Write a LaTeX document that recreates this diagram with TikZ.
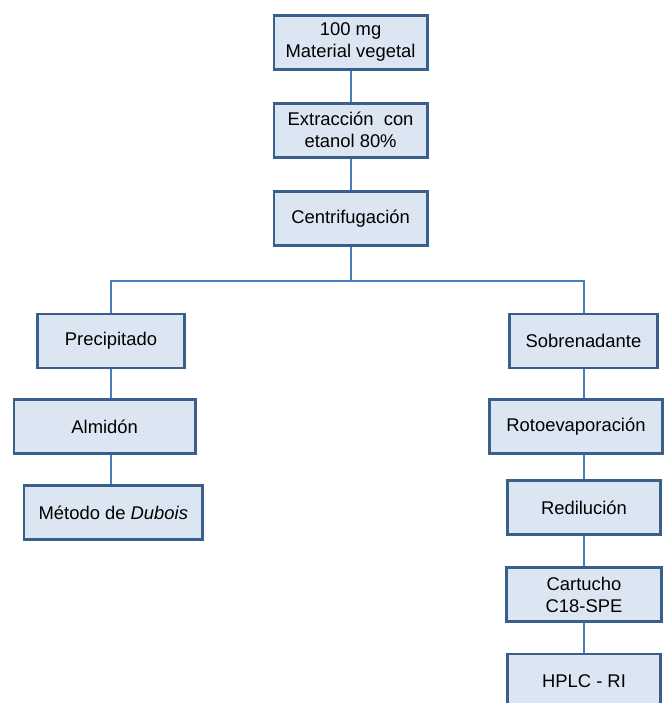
\documentclass[tikz,border=0pt]{standalone}
\usepackage{fontspec}
\setmainfont{Liberation Sans}
\usetikzlibrary{backgrounds}
\definecolor{cajafondo}{HTML}{DCE6F2}
\definecolor{cajaborde}{HTML}{3A5F8B}
\definecolor{linea}{HTML}{4A7EBB}
\tikzset{
  caja/.style={draw=cajaborde, fill=cajafondo, line width=1.35pt,
    minimum height=27pt, inner sep=0pt, align=center,
    font=\fontsize{9.2}{11}\selectfont},
  enlace/.style={draw=linea, line width=1pt}
}
\begin{document}
\begin{tikzpicture}[x=0.5pt,y=-0.5pt]
  \clip (0,0) rectangle (664,703);
  % tronco comun
  \node[caja, minimum width=76.7pt] (muestra) at (350.6,42.3) {100 mg\\Material vegetal};
  \node[caja, minimum width=76.7pt] (extrac) at (350.6,130.3) {Extracción~ con\\etanol 80\%};
  \node[caja, minimum width=76.7pt] (centrif) at (350.6,218.3) {Centrifugación};
  \coordinate (rama) at (350.6,281);
  % rama izquierda
  \node[caja, minimum width=73.7pt] (precip) at (111,341) {Precipitado};
  \node[caja, minimum width=90.7pt] (almidon) at (104.7,426.5) {Almidón};
  \node[caja, minimum width=89.2pt] (dubois) at (113.3,512.5) {Método de \textit{Dubois}};
  % rama derecha
  \node[caja, minimum width=74.2pt] (sobren) at (583.5,341) {Sobrenadante};
  \node[caja, minimum width=86.7pt] (rotoev) at (576,426.5) {Rotoevaporación};
  \node[caja, minimum width=76.2pt] (redil) at (584,507.5) {Redilución};
  \node[caja, minimum width=77.2pt] (cartucho) at (584,594.5) {Cartucho\\C18-SPE};
  \node[caja, minimum width=76.7pt] (hplc) at (584,681) {HPLC - RI};
  \begin{scope}[on background layer]
    \draw[enlace] (muestra) -- (extrac);
    \draw[enlace] (extrac) -- (centrif);
    \draw[enlace] (centrif.south) -- (rama);
    \draw[enlace] (precip.north) |- (rama) -| (sobren.north);
    \draw[enlace] (precip.south) -- (precip.south |- almidon.north);
    \draw[enlace] (precip.south |- almidon.south) -- (precip.south |- dubois.north);
    \draw[enlace] (sobren.south) -- (sobren.south |- rotoev.north);
    \draw[enlace] (sobren.south |- rotoev.south) -- (sobren.south |- redil.north);
    \draw[enlace] (redil) -- (cartucho);
    \draw[enlace] (cartucho) -- (hplc);
  \end{scope}
\end{tikzpicture}
\end{document}
